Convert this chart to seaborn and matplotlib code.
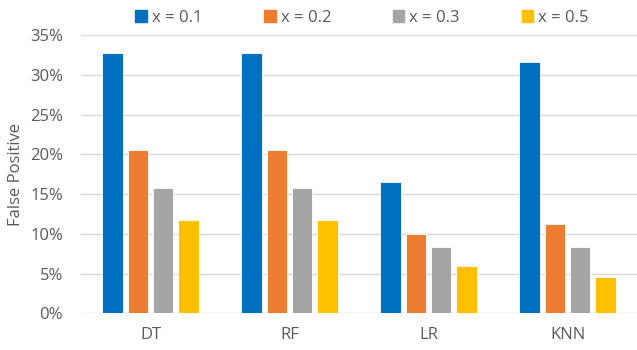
import matplotlib
matplotlib.use("Agg")
import matplotlib.pyplot as plt
from matplotlib.ticker import PercentFormatter
import seaborn as sns
import pandas as pd

# Classifiers and sampling ratios
models = ["DT", "RF", "LR", "KNN"]
ratios = ["x = 0.1", "x = 0.2", "x = 0.3", "x = 0.5"]

# False-positive rate per classifier, one list per ratio
fp_01 = [0.328, 0.328, 0.165, 0.317]
fp_02 = [0.206, 0.206, 0.100, 0.112]
fp_03 = [0.158, 0.158, 0.083, 0.083]
fp_05 = [0.118, 0.118, 0.060, 0.046]

colors = ["#0070C0", "#ED7D31", "#A5A5A5", "#FFC000"]

rows = []
for ratio, vals in zip(ratios, [fp_01, fp_02, fp_03, fp_05]):
    for m, v in zip(models, vals):
        rows.append({"model": m, "ratio": ratio, "fp": v})
df = pd.DataFrame(rows)

sns.set_theme(style="white")
plt.rcParams["font.family"] = ["Open Sans", "DejaVu Sans"]

W, H = 637, 350
fs = 12
fig = plt.figure(figsize=(W / 100, H / 100), dpi=100)
ax = fig.add_axes([81 / W, (H - 313.3) / H, (W - 81) / W, (313.3 - 35.4) / H])

sns.barplot(data=df, x="model", y="fp", hue="ratio", order=models,
            hue_order=ratios, palette=colors, saturation=1,
            width=0.73, gap=0.2, edgecolor="white", linewidth=0.6, ax=ax,
            zorder=3)

ax.set_xlim(-0.5, 3.5)
ax.set_ylim(0, 0.35)
ax.set_yticks([i * 0.05 for i in range(8)])
ax.yaxis.set_major_formatter(PercentFormatter(1.0, decimals=0))
ax.grid(axis="y", color="#D9D9D9", linewidth=1.0, zorder=0)
ax.set_axisbelow(True)
for s in ax.spines.values():
    s.set_visible(False)
ax.tick_params(axis="both", length=0, colors="#595959", labelsize=fs)
ax.tick_params(axis="x", pad=10)
ax.tick_params(axis="y", pad=13)
ax.set_xlabel("")
ax.set_ylabel("False Positive", color="#595959", fontsize=fs)
ax.yaxis.set_label_coords(-0.102, 0.5)

ax.get_legend().remove()
handles = [plt.Rectangle((0, 0), 1, 1, color=c) for c in colors]
fig.legend(handles, ratios, loc="center", bbox_to_anchor=(362 / W, 1 - 18 / H),
           ncol=4, frameon=False, fontsize=fs, labelcolor="#595959",
           handlelength=0.7, handleheight=0.7, handletextpad=0.3,
           columnspacing=3.7)

fig.savefig("out.png", dpi=100)
